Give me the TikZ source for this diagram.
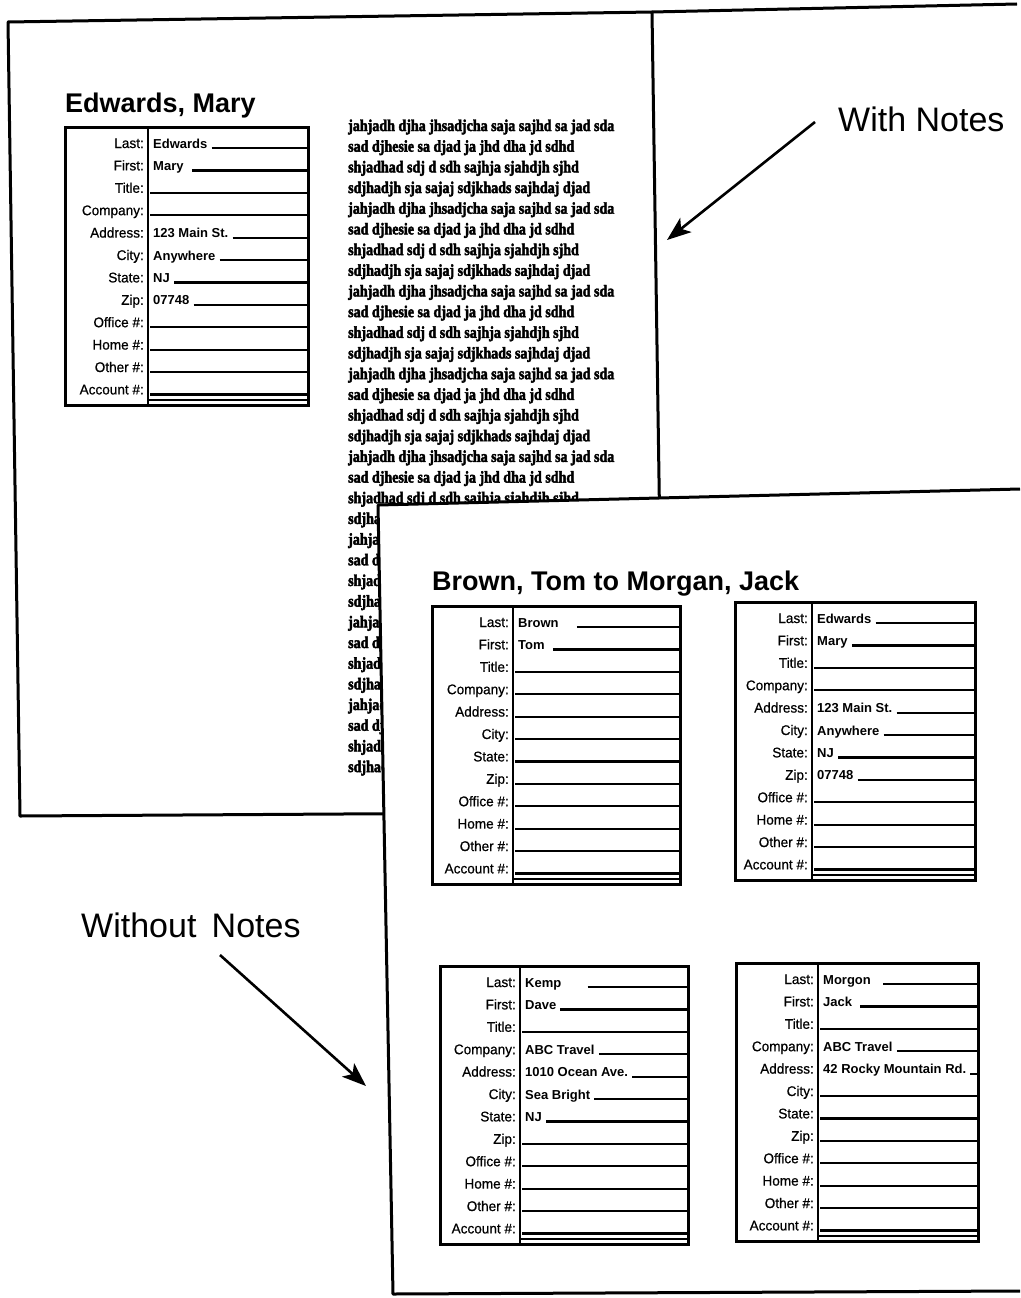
\documentclass[tikz,border=0pt]{standalone}
\usepackage{fontspec}
\setmainfont{Liberation Sans}
\newfontfamily\notesfont{Liberation Serif}[FakeStretch=0.85, BoldFeatures={FakeBold=2.4}]
\newfontfamily\labfont{Liberation Sans}[FakeBold=0.6, FakeStretch=0.97]
\usetikzlibrary{arrows.meta,calc}

\tikzset{
 page/.style={line width=3pt, line join=round},
 cardbox/.style={line width=3pt},
 divline/.style={line width=2.5pt},
 rowline/.style={line width=2.2pt},
 lab/.style={anchor=base east, inner sep=0pt, font=\labfont\fontsize{14}{14}\selectfont},
 val/.style={anchor=base west, inner sep=0pt, font=\bfseries\fontsize{13}{13}\selectfont},
 ttl/.style={anchor=base west, inner sep=0pt, font=\bfseries\fontsize{27}{27}\selectfont},
 callout/.style={anchor=base west, inner sep=0pt, font=\fontsize{34}{34}\selectfont},
 notes/.style={anchor=base west, inner sep=0pt, font=\notesfont\bfseries\fontsize{16.5}{16.5}\selectfont},
 pointer/.style={line width=2.6pt, -{Stealth[length=24pt,width=18pt,inset=6pt]}},
}

\def\nov{-}
\newcommand\gapbox[1]{\rule{#1}{0pt}}
\newcommand\contactcard[6]{%
  \draw[cardbox] (#2,#3) rectangle (#2+#4,#3+278);
  \draw[divline] (#2+#5,#3) -- (#2+#5,#3+278);
  \foreach \lab [count=\i] in {Last:,First:,Title:,Company:,Address:,City:,State:,Zip:,Office \#:,Home \#:,Other \#:,Account \#:}{
    \node[lab] (#1l\i) at (#2+#5-4,#3+21+22.4*\i-22.4) {\lab};
  }
  \foreach \v [count=\i] in {#6}{
    \ifx\v\nov
      \node[val] (#1v\i) at (#2+#5+5,#3+21+22.4*\i-22.4) {};
      \draw[rowline] ($(#1v\i.base east)+(-4,0)$) -- (#2+#4-1,#3+21+22.4*\i-22.4);
    \else
      \node[val] (#1v\i) at (#2+#5+5,#3+21+22.4*\i-22.4) {\v};
      \draw[rowline] ($(#1v\i.base east)+(4,0)$) -- (#2+#4-1,#3+21+22.4*\i-22.4);
    \fi
  }
  \draw[rowline] (#2+#5+1,#3+273) -- (#2+#4-1,#3+273);
}

\begin{document}
\begin{tikzpicture}[x=1pt,y=-1pt]
\useasboundingbox (0,0) rectangle (1020,1298);

% back page
\draw[page, fill=white] (8,22) -- (652,12) -- (664,812) -- (20,816) -- cycle;
\draw[page] (652,12) -- (1017,4);

% notes text
\foreach \k in {0,...,7}{
  \foreach \l/\t in {0/jahjadh djha jhsadjcha saja sajhd sa jad sda,
                     1/sad djhesie sa djad ja jhd dha jd sdhd,
                     2/shjadhad sdj d sdh sajhja sjahdjh sjhd,
                     3/sdjhadjh sja sajaj sdjkhads sajhdaj djad}{
    \node[notes] (n\k\l) at (348,131+20.68*\k*4+20.68*\l) {\t};
  }
}

\node[ttl] (t1) at (65,112) {Edwards, Mary};
\contactcard{bc}{65}{127}{243}{83}{Edwards,Mary\gapbox{4pt},-,-,123 Main St.,Anywhere,NJ,07748,-,-,-,-}

% front page
\fill[white] (378,505) -- (1020,489) -- (1020,1298) -- (393,1298) -- cycle;
\draw[page] (1020,489) -- (378,505) -- (393,1294) -- (1020,1291);

\node[ttl] (t2) at (432,590) {Brown, Tom to Morgan, Jack};
\contactcard{br}{432}{606}{248}{81}{Brown\gapbox{14pt},Tom\gapbox{4pt},-,-,-,-,-,-,-,-,-,-}
\contactcard{ed}{735}{602}{240}{77}{Edwards,Mary,-,-,123 Main St.,Anywhere,NJ,07748,-,-,-,-}
\contactcard{kp}{440}{966}{248}{80}{Kemp\gapbox{22pt},Dave,-,ABC Travel,1010 Ocean Ave.,Sea Bright,NJ,-,-,-,-,-}
\contactcard{mg}{736}{963}{242}{82}{Morgon\gapbox{8pt},Jack\gapbox{4pt},-,ABC Travel,42 Rocky Mountain Rd.,-,-,-,-,-,-,-}

% callouts
\node[callout] (wn) at (838,131) {With Notes};
\node[callout] (won) at (81,937) {Without\hspace{0.45em}Notes};
\coordinate (wnA) at (815,122);
\coordinate (wnB) at (667,240);
\coordinate (wonA) at (220,955);
\coordinate (wonB) at (366,1086);
\draw[pointer] (wnA) -- (wnB);
\draw[pointer] (wonA) -- (wonB);
\end{tikzpicture}
\end{document}
